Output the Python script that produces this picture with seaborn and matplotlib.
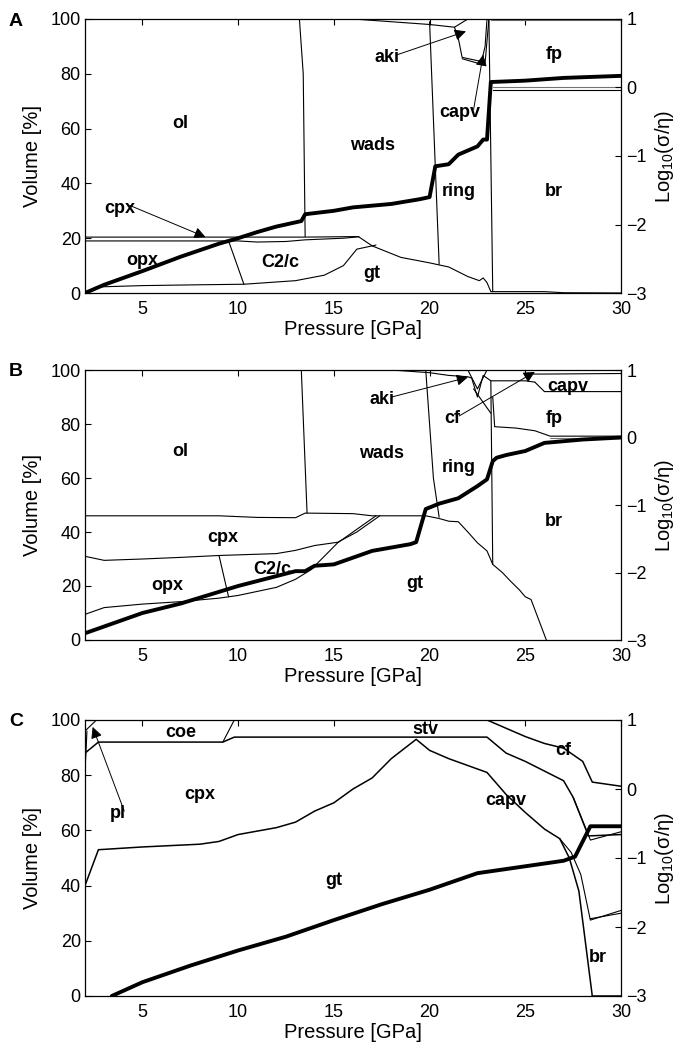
import numpy as np
import pandas as pd
import matplotlib
matplotlib.use("Agg")
import matplotlib.pyplot as plt
import seaborn as sns

sns.set_theme(style="white")
plt.rcParams['font.family'] = ['Liberation Sans', 'DejaVu Sans']
plt.rcParams['mathtext.fontset'] = 'custom'
plt.rcParams['mathtext.rm'] = 'Liberation Sans'
plt.rcParams['mathtext.it'] = 'Liberation Sans:italic'
plt.rcParams['text.color'] = 'black'
plt.rcParams['axes.labelcolor'] = 'black'
plt.rcParams['xtick.color'] = 'black'
plt.rcParams['ytick.color'] = 'black'

# ---------------- DATA ----------------
pressure_ticks = [5, 10, 15, 20, 25, 30]
volume_ticks = [0, 20, 40, 60, 80, 100]
log_ticks = [-3, -2, -1, 0, 1]

# Panel A: conductivity log10(sigma/eta)
A_cond_P = [2.0, 3.0, 5.0, 7.0, 9.0, 10.0, 11.0, 12.0, 13.3, 13.5, 15.0, 16.0, 18.0, 19.5, 20.0,
            20.3, 21.0, 21.5, 22.5, 22.8, 23.0, 23.2, 25.0, 27.0, 30.0]
A_cond_log = [-3.0, -2.88, -2.68, -2.47, -2.28, -2.2, -2.11, -2.03, -1.95, -1.85, -1.8, -1.75, -1.7,
              -1.63, -1.6, -1.15, -1.12, -0.98, -0.86, -0.76, -0.76, 0.08, 0.1, 0.14, 0.17]
# Panel A phase boundaries (pressure GPa, volume %)
A_bounds = {
    'cpx_top': ([2, 13.5, 16.3], [20.4, 20.4, 20.6]),
    'cpx_bot': ([2, 10, 11, 12.5, 13.5, 15.5, 16.3], [19.0, 19.0, 18.6, 18.8, 19.4, 20.0, 20.5]),
    'opx_c2c': ([9.5, 10.3], [19.0, 3.2]),
    'gt_top': ([16.3, 17, 18.5, 20, 21, 22, 22.6, 22.8, 23.0, 23.2, 26, 27, 30],
               [20.5, 17.2, 13, 11, 9.5, 6, 4.5, 5.5, 3.8, 0.5, 0.5, 0.1, 0.0]),
    'gt_bot': ([2, 2.6, 5, 8, 10.3, 13, 14.5, 15.5, 16.2, 17.2],
               [0, 2.2, 2.7, 3.0, 3.2, 4.5, 6.5, 10, 16, 17.5]),
    'ol_wads': ([13.2, 13.4, 13.5], [100, 80, 20.6]),
    'wads_ring': ([20.0, 20.5], [99, 10.5]),
    'ring_br': ([23.1, 23.3], [100, 0.5]),
    'aki_top': ([16, 18, 20, 21.3, 21.5, 21.7, 22.7], [100, 99, 98, 97, 93, 86, 84.5]),
    'aki_bot': ([21.7, 22.7], [85.5, 83.5]),
    'capv_r': ([22.7, 22.9, 23.0], [84, 90, 100]),
    'capv_r2': ([22.9, 23.1], [84, 100]),
    'aki_up': ([21.3, 22.0], [97, 100]),
    'fp_top': ([23.2, 30], [99.5, 99.5]),
    'fp_bot': ([23.3, 30], [74, 74]),
    'fp_bot2': ([23.3, 30], [75, 75]),
}
A_labels = [('ol', 7, 62), ('wads', 17, 54), ('ring', 21.5, 37), ('br', 26.5, 37), ('fp', 26.5, 87),
            ('opx', 5, 12), ('C2/c', 12.2, 11), ('gt', 17, 7)]
A_arrows = [('aki', 17.8, 86, 21.9, 95.5), ('capv', 21.6, 66, 22.8, 87), ('cpx', 3.8, 31, 8.3, 20.4)]

# Panel B
B_cond_P = [2.0, 3.0, 5.0, 7.0, 10.0, 13.0, 13.5, 14.0, 15.0, 17.0, 19.0, 19.3, 19.8, 20.5, 21.5,
            22.5, 23.0, 23.3, 23.5, 24.0, 25.0, 26.0, 28.0, 30.0]
B_cond_log = [-2.9, -2.8, -2.6, -2.46, -2.2, -1.98, -1.98, -1.9, -1.88, -1.68, -1.58, -1.55, -1.06,
              -0.98, -0.9, -0.72, -0.62, -0.35, -0.3, -0.26, -0.2, -0.08, -0.03, 0.0]
B_bounds = {
    'ol_cpx': ([2, 9, 11, 13, 13.5, 16, 17, 19.8], [46, 46, 45.4, 45.3, 47, 46.8, 46, 46]),
    'ol_wads': ([13.3, 13.6], [100, 47]),
    'cpx_bot': ([2, 3, 5, 7, 9, 12, 13, 14, 15.2, 16.2, 17.4],
                [31, 29.5, 30, 30.6, 31.3, 32, 33.2, 35, 36.2, 40, 46]),
    'opx_c2c': ([9.0, 9.5], [31.3, 16]),
    'gt_top': ([2, 3, 5, 7, 9, 10, 12, 13, 13.8, 14.5, 15.2, 16, 17.2],
               [9.5, 12, 13.3, 14.2, 15.5, 16.5, 19.5, 22.5, 26, 31, 36, 40, 46]),
    'gt_top2': ([19.8, 20.5, 21, 21.5, 22, 22.5, 23, 23.3, 23.8, 24.2, 24.7, 25, 25.3, 26.1],
                [46, 45, 44, 43.8, 40, 36, 33, 28, 25, 22, 18.5, 16, 15, 0]),
    'wads_ring': ([19.8, 20.0, 20.2, 20.5], [100, 80, 60, 45.5]),
    'ring_br': ([23.2, 23.3], [96, 28]),
    'aki_top': ([18, 20, 21, 22, 22.2, 22.5, 22.8, 23.2, 25, 25.5], [100, 99, 98, 97.5, 97, 90, 98, 96, 96, 95.5]),
    'aki_v2': ([22.0, 22.5, 23.0], [100, 93, 100]),
    'ring_cf': ([22.3, 22.8, 23.2], [93, 88, 84]),
    'capv_bot': ([25.5, 26, 30], [95.5, 92, 92]),
    'capv_top': ([25.3, 26, 30], [98.5, 98.5, 98.7]),
    'fp_bot': ([23.3, 23.4, 24.5, 25.5, 26.3, 30], [90, 79, 78.5, 77.5, 75.5, 75.5]),
    'fp_bot2': ([26.3, 30], [74.8, 74.8]),
}
B_labels = [('ol', 7, 70), ('wads', 17.5, 69), ('ring', 21.5, 64), ('br', 26.5, 44), ('fp', 26.5, 82),
            ('capv', 27.2, 94), ('cpx', 9.2, 38), ('opx', 6.3, 20), ('C2/c', 11.8, 26), ('gt', 19.2, 21)]
B_arrows = [('aki', 17.5, 89, 22.0, 97.3), ('cf', 21.2, 82, 25.5, 99.3)]

# Panel C
C_cond_P = [3.4, 5.0, 7.5, 10.0, 12.5, 15.0, 17.5, 20.0, 22.5, 25.0, 27.0, 27.6, 28.4, 30.0]
C_cond_log = [-3.0, -2.8, -2.56, -2.34, -2.14, -1.9, -1.67, -1.46, -1.22, -1.12, -1.04, -0.98, -0.54, -0.54]
C_bounds = {
    'coe_bot': ([2, 2.7, 9.2, 9.8, 23, 24, 25, 26, 27, 27.5, 28.3, 30],
                [88, 92, 92, 93.8, 93.8, 88, 85, 81.5, 78, 72, 58, 58.5]),
    'coe_bot2': ([27.5, 28.4, 30], [72, 56.5, 59.5]),
    'pl_line': ([2, 2.3, 2.6], [96, 98, 100]),
    'pl_left': ([2, 2.05, 2.1], [82, 88, 96]),
    'coe_stv': ([9.2, 9.8], [92, 100]),
    'cf_bot': ([23, 24, 25, 26, 27, 28, 28.5, 30], [100, 97, 94, 91.5, 89.8, 85, 77.5, 76]),
    'gt_top': ([2, 2.7, 5, 8, 9, 10, 12, 13, 14, 15, 16, 17, 18, 19.3, 20, 21, 22, 23, 24, 25, 26,
                26.8, 27.3, 27.8, 28.5],
               [40, 53, 54, 55, 56, 58.5, 61, 63, 67, 70, 75, 79, 86, 93, 89, 86, 83.5, 81, 73, 66.5,
                60.5, 57, 50, 38, 0]),
    'capv_br': ([26.8, 27.4, 27.9, 28.4, 30], [57, 52, 44, 27.5, 31]),
    'capv_br2': ([28.4, 30], [28, 30]),
    'br_bot': ([28.5, 30], [0, 0]),
}
C_labels = [('coe', 7, 95.5), ('stv', 19.8, 96.5), ('cf', 27, 89), ('cpx', 8, 73), ('capv', 24, 71),
            ('gt', 15, 42), ('br', 28.8, 14)]
C_arrows = [('pl', 3.7, 66, 2.4, 97.5)]

panels = [
    ('A', A_cond_P, A_cond_log, A_bounds, A_labels, A_arrows),
    ('B', B_cond_P, B_cond_log, B_bounds, B_labels, B_arrows),
    ('C', C_cond_P, C_cond_log, C_bounds, C_labels, C_arrows),
]

# ---------------- PLOT ----------------
W, H = 687, 1047
fig = plt.figure(figsize=(W / 100, H / 100), dpi=100)
ax_left, ax_right = 85 / W, 621 / W
tops = [19, 370, 720]
heights = [274, 270, 276]
FS_TICK = 13
FS_LAB = 14.5
FS_TXT = 13

for (letter, cP, cL, bounds, labels, arrows), top, hgt in zip(panels, tops, heights):
    ax = fig.add_axes([ax_left, 1 - (top + hgt) / H, ax_right - ax_left, hgt / H])
    for name, (px, vy) in bounds.items():
        lw = 0.8
        if letter == 'C' and name in ('coe_bot', 'gt_top', 'cf_bot', 'br_bot'):
            lw = 1.1
        col = '0.45' if name in ('fp_bot2', 'fp_top') else 'black'
        sns.lineplot(x=px, y=vy, ax=ax, color=col, lw=lw, sort=False, estimator=None)
    ax.set_xlim(2, 30)
    ax.set_ylim(0, 100)
    ax.set_xticks(pressure_ticks)
    ax.set_yticks(volume_ticks)
    ax.tick_params(direction='in', length=4, top=True, right=True, labelsize=FS_TICK,
                   color='black', width=0.8, pad=3)
    ax.tick_params(axis='x', pad=6)
    for s in ax.spines.values():
        s.set_color('black')
        s.set_linewidth(0.9)
    ax.set_xlabel('Pressure [GPa]', fontsize=FS_LAB, labelpad=1)
    ax.set_ylabel('Volume [%]', fontsize=FS_LAB, labelpad=6)

    for txt, x, y in labels:
        ax.text(x, y, txt, fontsize=FS_TXT, fontweight='bold', ha='center', va='center')
    for txt, tx, ty, hx, hy in arrows:
        ax.annotate('', xy=(hx, hy), xytext=(tx + 0.5 * len(txt) * 0.35, ty + 1),
                    arrowprops=dict(arrowstyle='-|>', color='black', lw=0.7, mutation_scale=17,
                                    shrinkA=0, shrinkB=0))
        ax.text(tx, ty, txt, fontsize=FS_TXT, fontweight='bold', ha='center', va='center')

    ax2 = ax.twinx()
    sns.lineplot(x=cP, y=cL, ax=ax2, color='black', lw=2.8, sort=False, estimator=None)
    ax2.set_ylim(-3, 1)
    ax2.set_xlim(2, 30)
    ax2.set_yticks(log_ticks)
    ax2.set_yticklabels(['\u22123', '\u22122', '\u22121', '0', '1'])
    ax2.tick_params(direction='in', length=4, labelsize=FS_TICK, width=0.8, color='black', pad=4)
    ax2.set_ylabel('Log$_{10}$(σ/η)', fontsize=FS_LAB, labelpad=4)
    for s in ax2.spines.values():
        s.set_visible(False)

    fig.text(9 / W, 1 - (top + 2) / H, letter, fontsize=14, fontweight='bold', ha='left', va='center')

fig.savefig('out.png', dpi=100)
